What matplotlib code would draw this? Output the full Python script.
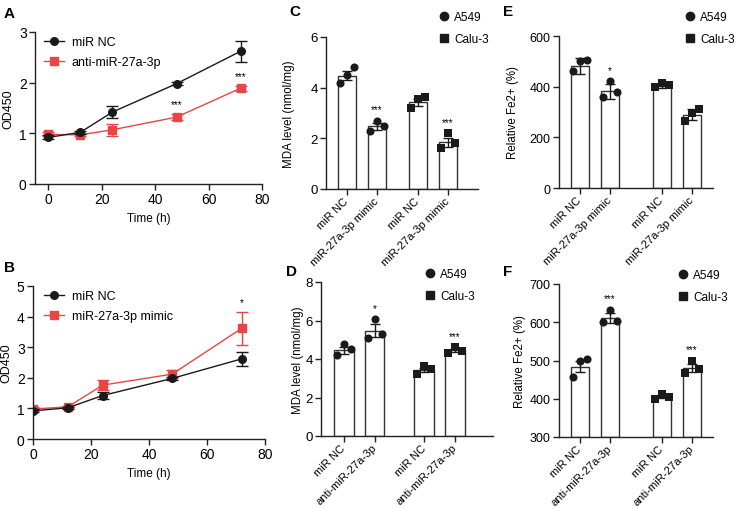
import matplotlib
matplotlib.use("Agg")
import matplotlib.pyplot as plt
from matplotlib.lines import Line2D

plt.rcParams['font.family'] = ['Liberation Sans', 'DejaVu Sans']
plt.rcParams['font.size'] = 9

W, H = 738, 510
RED = '#e84646'
BLK = '#1a1a1a'

# ---------------- data ----------------
time_h = [0, 12, 24, 48, 72]
a_nc = [0.92, 1.02, 1.42, 1.98, 2.62]
a_nc_err = [0.04, 0.03, 0.12, 0.03, 0.21]
a_anti = [0.98, 0.97, 1.07, 1.32, 1.89]
a_anti_err = [0.04, 0.03, 0.12, 0.06, 0.05]
a_stars = ['', '', '', '***', '***']

b_nc = [0.92, 1.02, 1.42, 1.98, 2.62]
b_nc_err = [0.05, 0.04, 0.12, 0.05, 0.22]
b_mimic = [0.98, 1.05, 1.76, 2.12, 3.62]
b_mimic_err = [0.05, 0.04, 0.17, 0.12, 0.54]
b_stars = ['', '', '', '', '*']

mimic_labels = ['miR NC', 'miR-27a-3p mimic', 'miR NC', 'miR-27a-3p mimic']
anti_labels = ['miR NC', 'anti-miR-27a-3p', 'miR NC', 'anti-miR-27a-3p']
cell_markers = ['o', 'o', 's', 's']

c_means = [4.48, 2.47, 3.42, 1.85]
c_err = [0.18, 0.13, 0.13, 0.18]
c_points = [[4.2, 4.5, 4.8], [2.3, 2.7, 2.5], [3.2, 3.55, 3.62], [1.6, 2.2, 1.8]]
c_stars = ['', '***', '', '***']

d_means = [4.45, 5.48, 3.42, 4.45]
d_err = [0.18, 0.32, 0.1, 0.08]
d_points = [[4.2, 4.8, 4.5], [5.1, 6.08, 5.3], [3.2, 3.62, 3.5], [4.3, 4.6, 4.4]]
d_stars = ['', '*', '', '***']

e_means = [482, 381, 403, 289]
e_err = [32, 30, 7, 22]
e_points = [[460, 500, 505], [358, 423, 377], [400, 413, 406], [266, 297, 312]]
e_stars = ['', '*', '', '']

f_means = [484, 611, 405, 481]
f_err = [15, 12, 4, 10]
f_points = [[457, 500, 505], [600, 633, 604], [399, 412, 405], [468, 500, 477]]
f_stars = ['', '***', '', '***']

fig = plt.figure(figsize=(W / 100, H / 100), dpi=100)


def axes_px(left, right, top, bottom):
    return fig.add_axes([left / W, 1 - bottom / H, (right - left) / W, (bottom - top) / H])


def style(ax, tick_fs):
    for s in ['top', 'right']:
        ax.spines[s].set_visible(False)
    for s in ['left', 'bottom']:
        ax.spines[s].set_linewidth(1.0)
        ax.spines[s].set_color('#222222')
    ax.tick_params(direction='out', length=4, width=1.0, color='#222222', labelsize=tick_fs, pad=2)


def line_panel(ax, y1, e1, y2, e2, lab2, stars, ylim, yt, xlim, leg_xy):
    style(ax, 10)
    ax.errorbar(time_h, y1, yerr=e1, color=BLK, marker='o', ms=5.5, lw=1, capsize=4,
                elinewidth=1, capthick=1, zorder=3)
    ax.errorbar(time_h, y2, yerr=e2, color=RED, marker='s', ms=5.5, lw=1, capsize=4,
                elinewidth=1, capthick=1, zorder=2)
    for x, y, e, s in zip(time_h, y2, e2, stars):
        if s:
            ax.text(x, y + e + 0.03 * (ylim[1] - ylim[0]), s, ha='center', va='bottom', fontsize=7)
    ax.set_xlim(*xlim)
    ax.set_ylim(*ylim)
    ax.set_xticks([0, 20, 40, 60, 80])
    ax.set_yticks(yt)
    ax.set_ylabel('OD450', fontsize=9, labelpad=3)
    ax.set_xlabel('Time (h)', fontsize=8.5, labelpad=4)
    handles = [Line2D([], [], color=BLK, marker='o', ms=5.5, lw=1),
               Line2D([], [], color=RED, marker='s', ms=5.5, lw=1)]
    ax.legend(handles, ['miR NC', lab2], loc='upper left',
              bbox_to_anchor=(leg_xy[0] / W, 1 - leg_xy[1] / H), bbox_transform=fig.transFigure,
              frameon=False, borderpad=0, borderaxespad=0, handlelength=1.6, handletextpad=0.6,
              labelspacing=0.65, fontsize=9)


def bar_panel(ax, pos, means, err, points, stars, labels, ylim, yt, ylabel, xlim,
              tick_fs, ylabel_pad, leg_xy):
    style(ax, tick_fs)
    ax.bar(pos, [m - ylim[0] for m in means], bottom=ylim[0], width=0.63, color='white',
           edgecolor='#333333', linewidth=1.0, zorder=1)
    ax.errorbar(pos, means, yerr=err, fmt='none', ecolor=BLK, elinewidth=1, capsize=3.5,
                capthick=1, zorder=3)
    offs = [-0.23, 0.0, 0.23]
    for p, pts, mk in zip(pos, points, cell_markers):
        ax.scatter([p + o for o in offs], pts, marker=mk, s=34, color=BLK, zorder=4,
                   linewidths=0)
    span = ylim[1] - ylim[0]
    for p, m, e, pts, s in zip(pos, means, err, points, stars):
        if s:
            top = max(m + e, max(pts))
            ax.text(p, top + 0.04 * span, s, ha='center', va='bottom', fontsize=7)
    ax.set_xlim(*xlim)
    ax.set_ylim(*ylim)
    ax.set_yticks(yt)
    ax.set_xticks(pos)
    ax.set_xticklabels(labels, rotation=45, ha='right', va='center', rotation_mode='anchor',
                       fontsize=8.1)
    ax.tick_params(axis='x', pad=3)
    ax.set_ylabel(ylabel, fontsize=8.3, labelpad=ylabel_pad)
    h = [Line2D([], [], ls='none', marker='o', color=BLK, ms=6),
         Line2D([], [], ls='none', marker='s', color=BLK, ms=6)]
    ax.legend(h, ['A549', 'Calu-3'], loc='upper left',
              bbox_to_anchor=(leg_xy[0] / W, 1 - leg_xy[1] / H),
              bbox_transform=fig.transFigure, frameon=False, borderpad=0, borderaxespad=0,
              handlelength=0.7, handletextpad=0.5, labelspacing=0.85, fontsize=8.5)


# ---- A ----
axA = axes_px(35, 262, 33, 185)
line_panel(axA, a_nc, a_nc_err, a_anti, a_anti_err, 'anti-miR-27a-3p', a_stars,
           (0, 3), [0, 1, 2, 3], (-5, 80), (44, 37))

# ---- B ----
axB = axes_px(33, 265, 287, 440)
line_panel(axB, b_nc, b_nc_err, b_mimic, b_mimic_err, 'miR-27a-3p mimic', b_stars,
           (0, 5), [0, 1, 2, 3, 4, 5], (0, 80), (44, 291))

# ---- C ----
axC = axes_px(326, 478, 38, 190)
bar_panel(axC, [0, 1, 2.37, 3.37], c_means, c_err, c_points, c_stars, mimic_labels,
          (0, 6), [0, 2, 4, 6], 'MDA level (nmol/mg)', (-0.7, 4.37), 9.5, 11, (440, 12))

# ---- D ----
axD = axes_px(321, 493, 283, 437)
bar_panel(axD, [0, 1, 2.6, 3.6], d_means, d_err, d_points, d_stars, anti_labels,
          (0, 8), [0, 2, 4, 6, 8], 'MDA level (nmol/mg)', (-0.74, 4.83), 9.5, 1, (426, 269))

# ---- E ----
axE = axes_px(559, 713, 37, 189)
bar_panel(axE, [0, 1, 2.73, 3.73], e_means, e_err, e_points, e_stars, mimic_labels,
          (0, 600), [0, 200, 400, 600], 'Relative Fe2+ (%)', (-0.7, 4.43), 9, 8, (686, 12))

# ---- F ----
axF = axes_px(559, 713, 285, 438)
bar_panel(axF, [0, 1, 2.73, 3.73], f_means, f_err, f_points, f_stars, anti_labels,
          (300, 700), [300, 400, 500, 600, 700], 'Relative Fe2+ (%)', (-0.7, 4.43), 9, 3,
          (679, 270))

# panel letters
for lt, x, y in [('A', 4, 14), ('B', 4, 268), ('C', 289, 12), ('D', 286, 272),
                 ('E', 503, 12), ('F', 503, 272)]:
    fig.text(x / W, 1 - y / H, lt, fontsize=11, fontweight='bold', va='center', ha='left')

fig.savefig('out.png', dpi=100)
